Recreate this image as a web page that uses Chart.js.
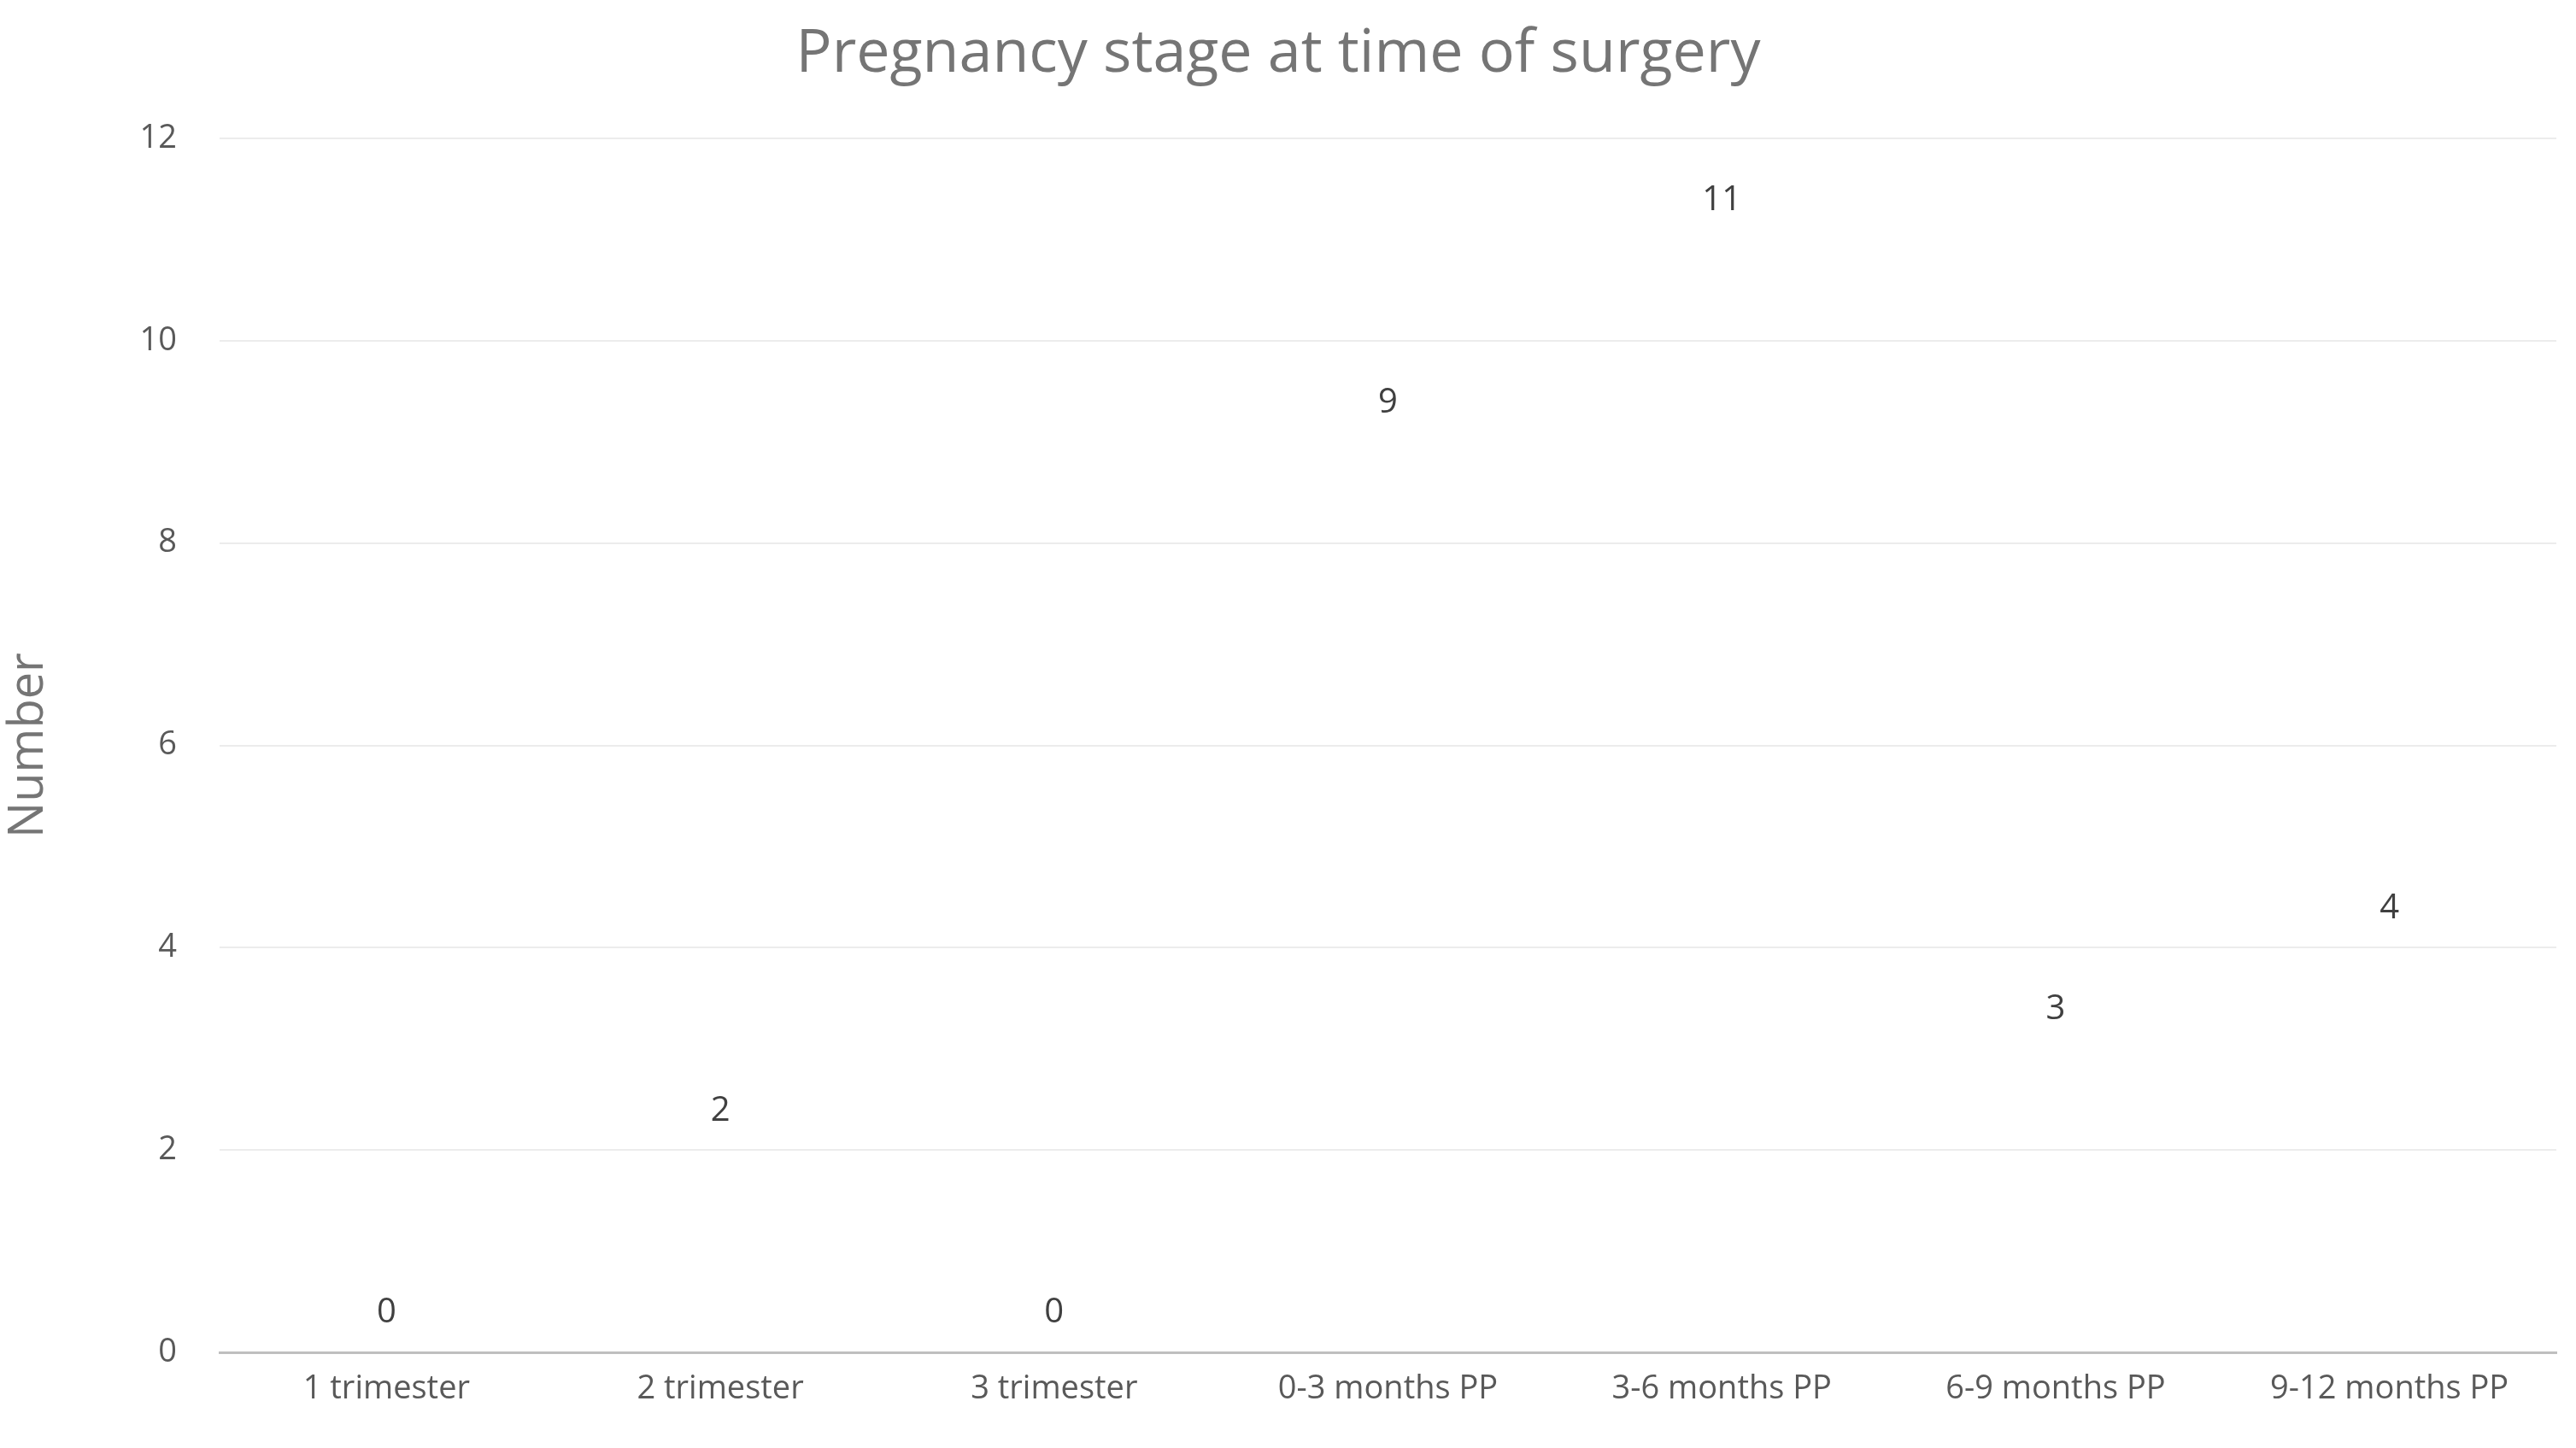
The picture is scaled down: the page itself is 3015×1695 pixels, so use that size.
<!DOCTYPE html>
<html><head><meta charset="utf-8">
<script src="https://cdn.jsdelivr.net/npm/chart.js@4"></script>
<style>html,body{margin:0;padding:0;background:#fff}#w{width:3015px;height:1695px}</style>
</head><body><div id="w"><canvas id="c"></canvas></div>
<script>
const categories = ["1 trimester","2 trimester","3 trimester","0-3 months PP","3-6 months PP","6-9 months PP","9-12 months PP"];
const values = [0,2,0,9,11,3,4];
const yTicks = [0,2,4,6,8,10,12];

const labelPlugin = {
  id:'lbl',
  afterDatasetsDraw(chart){
    const ctx = chart.ctx, meta = chart.getDatasetMeta(0);
    ctx.save();
    ctx.font = '40px "Open Sans"';
    ctx.fillStyle = '#404040';
    ctx.textAlign = 'center'; ctx.textBaseline = 'middle';
    meta.data.forEach((b,i)=>{ ctx.fillText(String(values[i]), b.x, b.y - 46); });
    ctx.restore();
  }
};

new Chart(document.getElementById('c'), {
  type:'bar',
  data:{labels:categories, datasets:[{data:values, backgroundColor:'rgba(0,0,0,0)', borderWidth:0}]},
  plugins:[labelPlugin],
  options:{
    responsive:true, maintainAspectRatio:false, animation:false,
    layout:{padding:{left:0,right:23,top:0,bottom:0}},
    plugins:{
      legend:{display:false}, tooltip:{enabled:false},
      title:{display:true, text:'Pregnancy stage at time of surgery', color:'#757575',
        font:{family:'"Open Sans"', size:70, weight:'normal'}, padding:{top:22,bottom:56}}
    },
    scales:{
      x:{
        grid:{display:false, drawTicks:false},
        border:{color:'#bfbfbf', width:3},
        ticks:{color:'#595959', font:{family:'"Open Sans"', size:38}, padding:20, maxRotation:0},
        afterFit(s){ s.height = 112; }
      },
      y:{
        min:0, max:12,
        afterBuildTicks(s){ s.ticks = yTicks.map(v=>({value:v})); },
        grid:{color:'#ececec', lineWidth:2, drawTicks:false},
        border:{display:false},
        ticks:{color:'#595959', font:{family:'"Open Sans"', size:38}, padding:50},
        title:{display:true, text:'Number', color:'#757575', font:{family:'"Open Sans"', size:56}, padding:{top:0,bottom:20}},
        afterFit(s){ s.width = 257; }
      }
    }
  }
});
</script></body></html>
